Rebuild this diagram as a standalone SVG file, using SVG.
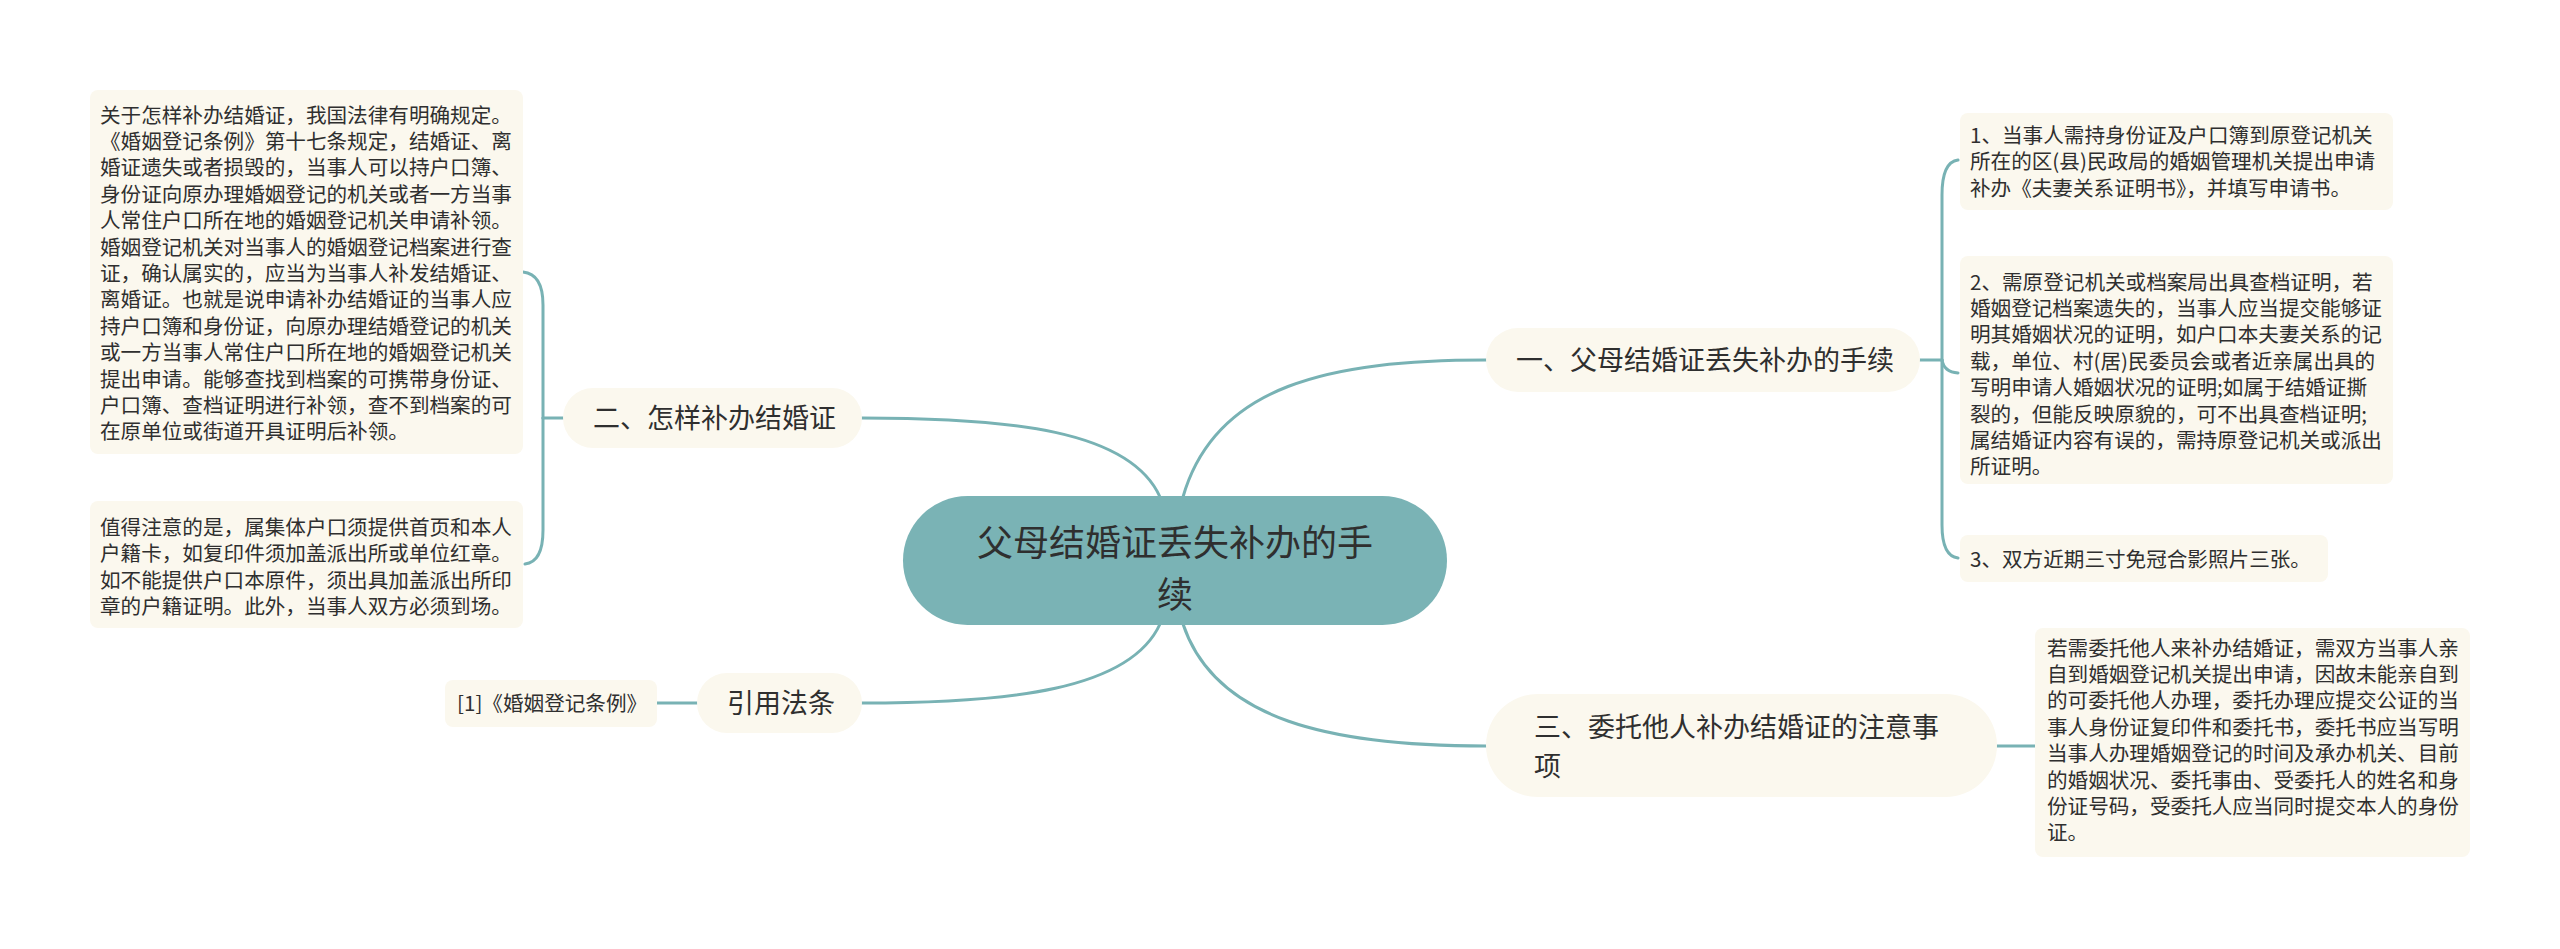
<svg xmlns="http://www.w3.org/2000/svg" width="2560" height="949" viewBox="0 0 2560 949">
<style>
.bg{fill:#ffffff}
.conn{fill:none;stroke:#78b2b4;stroke-width:3;stroke-linecap:round}
.box{fill:#fbf8ee}
.pill{fill:#fbf8ee}
.center{fill:#7ab3b5}
text{font-family:"Noto Sans CJK SC","Noto Sans",sans-serif;fill:#2f2f2f}
.t{font-size:20.6px}
.b{font-size:27px}
.c{font-size:36px}
</style>
<rect class="bg" x="0" y="0" width="2560" height="949"/>
<g id="connectors">
<path class="conn" d="M1183,497 C1215,385 1330,360 1486,360"/>
<path class="conn" d="M1183,624 C1215,720 1330,746 1486,746"/>
<path class="conn" d="M1160,497 C1130,430 1010,418 862,418"/>
<path class="conn" d="M1160,624 C1130,690 1010,703 862,703"/>
<path class="conn" d="M1920,360 H1942"/>
<path class="conn" d="M1942,360 V195 Q1942,162 1958,160"/>
<path class="conn" d="M1942,360 Q1944,372 1958,373"/>
<path class="conn" d="M1942,360 V525 Q1942,556 1958,558"/>
<path class="conn" d="M563,418 H543"/>
<path class="conn" d="M543,418 V305 Q543,274 523,272"/>
<path class="conn" d="M543,418 V530 Q543,562 525,564"/>
<path class="conn" d="M697,703 H657"/>
<path class="conn" d="M1997,746 H2035"/>
</g>
<g id="center">
<rect class="center" x="903" y="496" width="544" height="129" rx="64.5"/>
<text class="c" x="1175" y="556" text-anchor="middle">父母结婚证丢失补办的手</text>
<text class="c" x="1175" y="608" text-anchor="middle">续</text>
</g>
<g id="branch1">
<rect class="pill" x="1486" y="328" width="434" height="64" rx="32"/>
<text class="b" x="1516" y="370">一、父母结婚证丢失补办的手续</text>
</g>
<g id="b1-item1">
<rect class="box" x="1960" y="113" width="433" height="97" rx="8"/>
<text class="t" x="1970"><tspan x="1970" y="143">1、当事人需持身份证及户口簿到原登记机关</tspan><tspan x="1970" y="169.4">所在的区(县)民政局的婚姻管理机关提出申请</tspan><tspan x="1970" y="195.8">补办《夫妻关系证明书》，并填写申请书。</tspan></text>
</g>
<g id="b1-item2">
<rect class="box" x="1960" y="256" width="433" height="228" rx="8"/>
<text class="t" x="1970"><tspan x="1970" y="289.5">2、需原登记机关或档案局出具查档证明，若</tspan><tspan x="1970" y="315.9">婚姻登记档案遗失的，当事人应当提交能够证</tspan><tspan x="1970" y="342.3">明其婚姻状况的证明，如户口本夫妻关系的记</tspan><tspan x="1970" y="368.7">载，单位、村(居)民委员会或者近亲属出具的</tspan><tspan x="1970" y="395.1">写明申请人婚姻状况的证明;如属于结婚证撕</tspan><tspan x="1970" y="421.5">裂的，但能反映原貌的，可不出具查档证明;</tspan><tspan x="1970" y="447.9">属结婚证内容有误的，需持原登记机关或派出</tspan><tspan x="1970" y="474.3">所证明。</tspan></text>
</g>
<g id="b1-item3">
<rect class="box" x="1960" y="535" width="368" height="47" rx="8"/>
<text class="t" x="1970" y="566.5">3、双方近期三寸免冠合影照片三张。</text>
</g>
<g id="branch2">
<rect class="pill" x="563" y="388" width="299" height="60" rx="30"/>
<text class="b" x="593" y="428">二、怎样补办结婚证</text>
</g>
<g id="b2-item1">
<rect class="box" x="90" y="90" width="433" height="364" rx="8"/>
<text class="t" x="100"><tspan x="100" y="122.5">关于怎样补办结婚证，我国法律有明确规定。</tspan><tspan x="100" y="148.9">《婚姻登记条例》第十七条规定，结婚证、离</tspan><tspan x="100" y="175.3">婚证遗失或者损毁的，当事人可以持户口簿、</tspan><tspan x="100" y="201.7">身份证向原办理婚姻登记的机关或者一方当事</tspan><tspan x="100" y="228.1">人常住户口所在地的婚姻登记机关申请补领。</tspan><tspan x="100" y="254.5">婚姻登记机关对当事人的婚姻登记档案进行查</tspan><tspan x="100" y="280.9">证，确认属实的，应当为当事人补发结婚证、</tspan><tspan x="100" y="307.3">离婚证。也就是说申请补办结婚证的当事人应</tspan><tspan x="100" y="333.7">持户口簿和身份证，向原办理结婚登记的机关</tspan><tspan x="100" y="360.1">或一方当事人常住户口所在地的婚姻登记机关</tspan><tspan x="100" y="386.5">提出申请。能够查找到档案的可携带身份证、</tspan><tspan x="100" y="412.9">户口簿、查档证明进行补领，查不到档案的可</tspan><tspan x="100" y="439.3">在原单位或街道开具证明后补领。</tspan></text>
</g>
<g id="b2-item2">
<rect class="box" x="90" y="501" width="433" height="127" rx="8"/>
<text class="t" x="100"><tspan x="100" y="535">值得注意的是，属集体户口须提供首页和本人</tspan><tspan x="100" y="561.4">户籍卡，如复印件须加盖派出所或单位红章。</tspan><tspan x="100" y="587.8">如不能提供户口本原件，须出具加盖派出所印</tspan><tspan x="100" y="614.2">章的户籍证明。此外，当事人双方必须到场。</tspan></text>
</g>
<g id="branch-ref">
<rect class="pill" x="697" y="673" width="165" height="60" rx="30"/>
<text class="b" x="727" y="713">引用法条</text>
</g>
<g id="ref-item1">
<rect class="box" x="445" y="680" width="212" height="47" rx="8"/>
<text class="t" x="457" y="710.5">[1]《婚姻登记条例》</text>
</g>
<g id="branch3">
<rect class="pill" x="1486" y="694" width="511" height="103" rx="51.5"/>
<text class="b" x="1534"><tspan x="1534" y="737">三、委托他人补办结婚证的注意事</tspan><tspan x="1534" y="776">项</tspan></text>
</g>
<g id="b3-item1">
<rect class="box" x="2035" y="628" width="435" height="229" rx="8"/>
<text class="t" x="2047"><tspan x="2047" y="655.5">若需委托他人来补办结婚证，需双方当事人亲</tspan><tspan x="2047" y="681.9">自到婚姻登记机关提出申请，因故未能亲自到</tspan><tspan x="2047" y="708.3">的可委托他人办理，委托办理应提交公证的当</tspan><tspan x="2047" y="734.7">事人身份证复印件和委托书，委托书应当写明</tspan><tspan x="2047" y="761.1">当事人办理婚姻登记的时间及承办机关、目前</tspan><tspan x="2047" y="787.5">的婚姻状况、委托事由、受委托人的姓名和身</tspan><tspan x="2047" y="813.9">份证号码，受委托人应当同时提交本人的身份</tspan><tspan x="2047" y="840.3">证。</tspan></text>
</g>
</svg>
